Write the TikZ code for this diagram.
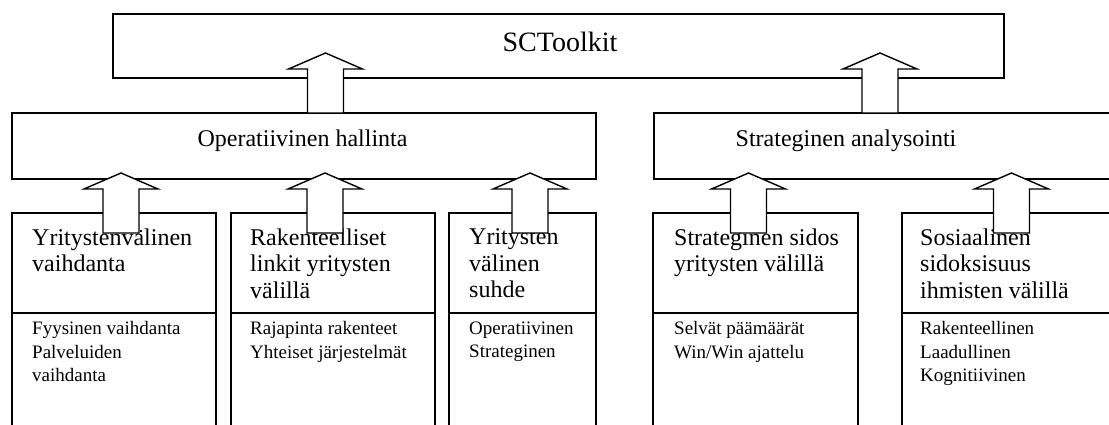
\documentclass[tikz,border=0pt]{standalone}
\usepackage{fontspec}
\setmainfont{Liberation Serif}
\usetikzlibrary{calc}

\begin{document}
\begin{tikzpicture}[
  x=1pt,
  y=-1pt,
  box/.style={
    draw,
    rectangle,
    line width=1.4pt,
    inner sep=0pt
  },
  titletext/.style={
    anchor=base,
    inner sep=0pt,
    font=\fontsize{24}{26.5}\selectfont
  },
  headtext/.style={
    anchor=north west,
    align=left,
    inner sep=0pt,
    font=\fontsize{24}{26.5}\selectfont,
    execute at begin node=\strut
  },
  itemtext/.style={
    anchor=north west,
    align=left,
    inner sep=0pt,
    font=\fontsize{19}{23.5}\selectfont,
    execute at begin node=\strut
  },
  liftarrow/.style={
    draw,
    fill=white,
    line width=1.4pt,
    to path={
      let \p1=(\tikztostart), \p2=(\tikztotarget) in
      (\x1-18pt,\y1) -- (\x1-18pt,\y2-16pt) -- (\x1-37pt,\y2-16pt)
      -- (\x2,\y2) -- (\x1+37pt,\y2-16pt) -- (\x1+18pt,\y2-16pt)
      -- (\x1+18pt,\y1) -- cycle
    }
  }
]
\useasboundingbox (0,0) rectangle (1109,425);
\clip (0,0) rectangle (1109,425);

% Top level and the two management areas.
\node[box, minimum width=891pt, minimum height=64pt] (toolkit) at (558.5,46) {};
\node[box, minimum width=584pt, minimum height=66pt] (oper) at (304,146) {};
\node[box, minimum width=476pt, minimum height=66pt] (strat) at (892,146) {};

\node[titletext, font=\fontsize{28}{30}\selectfont] (toolkittxt) at (560,52) {SCToolkit};
\node[titletext] (opertxt) at (302.5,147) {Operatiivinen hallinta};
\node[titletext] (strattxt) at (846,147) {Strateginen analysointi};

% Lower columns: heading part and list part.
\node[box, minimum width=204pt, minimum height=100pt] (head1) at (114,263) {};
\node[box, minimum width=204pt, minimum height=100pt] (head2) at (333,263) {};
\node[box, minimum width=147pt, minimum height=100pt] (head3) at (522.5,263) {};
\node[box, minimum width=205pt, minimum height=100pt] (head4) at (755.5,263) {};
\node[box, minimum width=228pt, minimum height=100pt] (head5) at (1016,263) {};

\node[box, minimum width=204pt, minimum height=132pt] (list1) at (114,379) {};
\node[box, minimum width=204pt, minimum height=132pt] (list2) at (333,379) {};
\node[box, minimum width=147pt, minimum height=132pt] (list3) at (522.5,379) {};
\node[box, minimum width=205pt, minimum height=132pt] (list4) at (755.5,379) {};
\node[box, minimum width=228pt, minimum height=132pt] (list5) at (1016,379) {};

% Column texts.
\node[headtext] (head1txt) at (32,228.45) {Yritystenvälinen\\vaihdanta};
\node[headtext] (head2txt) at (250,228.45) {Rakenteelliset\\linkit yritysten\\välillä};
\node[headtext] (head3txt) at (469,228.45) {Yritysten\\välinen\\suhde};
\node[headtext] (head4txt) at (674,228.45) {Strateginen sidos\\yritysten välillä};
\node[headtext] (head5txt) at (920,228.45) {Sosiaalinen\\sidoksisuus\\ihmisten välillä};

\node[itemtext] (list1txt) at (32,321.55) {Fyysinen vaihdanta\\Palveluiden\\vaihdanta};
\node[itemtext] (list2txt) at (250,321.55) {Rajapinta rakenteet\\Yhteiset järjestelmät};
\node[itemtext] (list3txt) at (469,321.55) {Operatiivinen\\Strateginen};
\node[itemtext] (list4txt) at (674,321.55) {Selvät päämäärät\\Win/Win ajattelu};
\node[itemtext] (list5txt) at (920,321.55) {Rakenteellinen\\Laadullinen\\Kognitiivinen};

% Arrow ends.
\coordinate (up1lo) at (325.5,113);
\coordinate (up1hi) at (325.5,53);
\coordinate (up2lo) at (880,113);
\coordinate (up2hi) at (880,53);
\coordinate (lo1) at (121,233);
\coordinate (hi1) at (121,173);
\coordinate (lo2) at (325,233);
\coordinate (hi2) at (325,173);
\coordinate (lo3) at (530,233);
\coordinate (hi3) at (530,173);
\coordinate (lo4) at (748.5,233);
\coordinate (hi4) at (748.5,173);
\coordinate (lo5) at (1011.5,233);
\coordinate (hi5) at (1011.5,173);

% Block arrows upwards.
\draw[liftarrow] (up1lo) to (up1hi);
\draw[liftarrow] (up2lo) to (up2hi);
\draw[liftarrow] (lo1) to (hi1);
\draw[liftarrow] (lo2) to (hi2);
\draw[liftarrow] (lo3) to (hi3);
\draw[liftarrow] (lo4) to (hi4);
\draw[liftarrow] (lo5) to (hi5);

\end{tikzpicture}
\end{document}
